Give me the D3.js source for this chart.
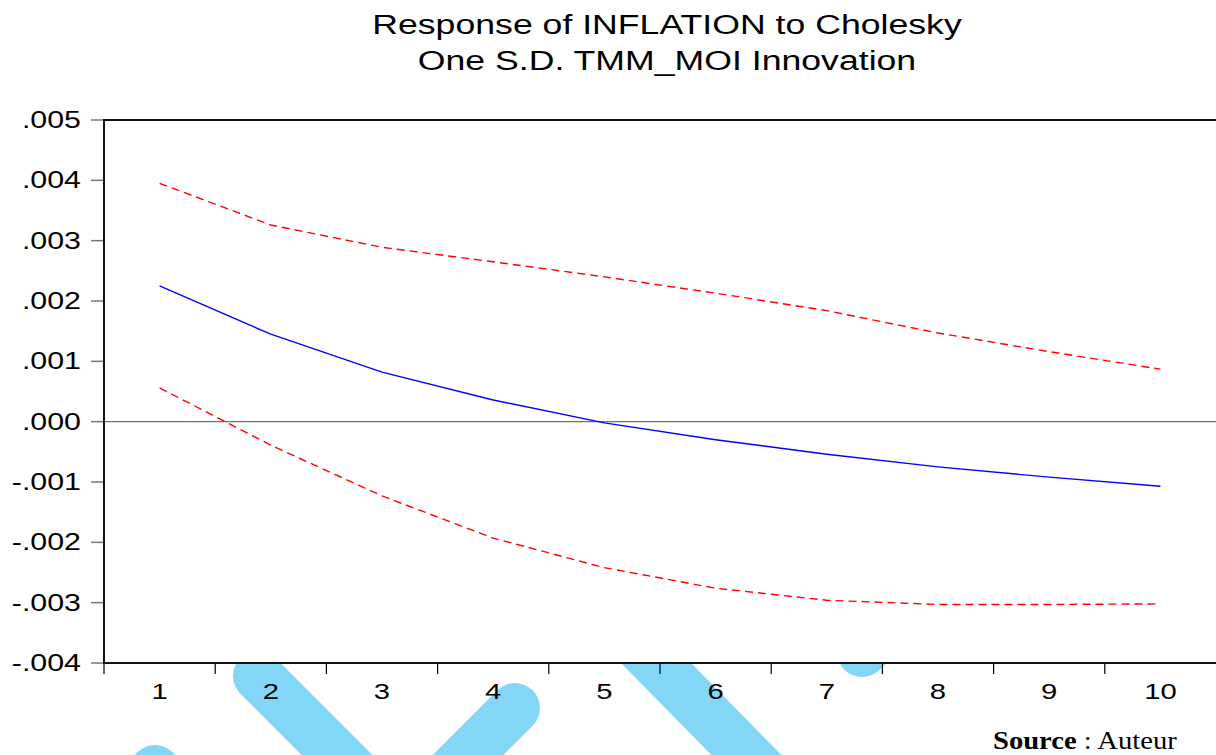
<!DOCTYPE html>
<html><head><meta charset="utf-8">
<script src="https://cdn.jsdelivr.net/npm/d3@7"></script>
<style>html,body{margin:0;padding:0;background:#fff;overflow:hidden}</style>
</head><body>
<svg id="c" width="1216" height="755"></svg>
<script>
const periods = [1,2,3,4,5,6,7,8,9,10];
const response = [0.00225,0.00145,0.00082,0.00036,-0.00002,-0.00030,-0.00054,-0.00075,-0.00092,-0.00107];
const upperBand = [0.00395,0.00326,0.00289,0.00265,0.00240,0.00213,0.00184,0.00147,0.00116,0.00087];
const lowerBand = [0.00056,-0.00039,-0.00123,-0.00193,-0.00242,-0.00276,-0.00296,-0.00303,-0.00303,-0.00302];
const yTicks = [0.005,0.004,0.003,0.002,0.001,0,-0.001,-0.002,-0.003,-0.004];
const yTickLabels = [".005",".004",".003",".002",".001",".000","-.001","-.002","-.003","-.004"];
const titleLines = ["Response of INFLATION to Cholesky","One S.D. TMM_MOI Innovation"];

const svg = d3.select("#c");
const L=104, R=1216, T=120, B=663;
const x = d3.scaleBand().domain(periods).range([L,R]).paddingInner(0).paddingOuter(0);
const y = d3.scaleLinear().domain([-0.004,0.005]).range([B,T]);
const cx = d => x(d)+x.bandwidth()/2;

// watermark strokes (behind the plot area)
const wm = svg.append("g").attr("stroke","#84d6f6").attr("stroke-width",50).attr("stroke-linecap","round").attr("fill","none");
[[258,676,420,838],[555,560,820,830],[862,652,1000,514],[515,708,380,843],[155,770,90,835]].forEach(s=>{
  wm.append("line").attr("x1",s[0]).attr("y1",s[1]).attr("x2",s[2]).attr("y2",s[3]);
});

// plot background
svg.append("rect").attr("x",L).attr("y",T).attr("width",R-L).attr("height",B-T).attr("fill","#fff");

// title
const SX=1.32;
titleLines.forEach((t,i)=>{
  svg.append("text").attr("transform",`translate(667,${34+i*36}) scale(${SX},1)`)
    .attr("text-anchor","middle").attr("font-family","Liberation Sans, Arial, sans-serif")
    .attr("font-size",27).attr("fill","#000").text(t);
});

// zero line
svg.append("line").attr("x1",L).attr("x2",R).attr("y1",y(0)).attr("y2",y(0)).attr("stroke","#707070").attr("stroke-width",1.3);

// y ticks
yTicks.forEach((v,i)=>{
  svg.append("line").attr("x1",91).attr("x2",L).attr("y1",y(v)).attr("y2",y(v)).attr("stroke","#777").attr("stroke-width",1.5);
  svg.append("text").attr("transform",`translate(81,${y(v)+8}) scale(${SX},1)`)
    .attr("text-anchor","end").attr("font-family","Liberation Sans, Arial, sans-serif")
    .attr("font-size",23).attr("fill","#000").text(yTickLabels[i]);
});

// x ticks at band boundaries
periods.forEach(p=>{
  svg.append("line").attr("x1",x(p)).attr("x2",x(p)).attr("y1",B).attr("y2",B+11).attr("stroke","#000").attr("stroke-width",1.2);
  svg.append("text").attr("transform",`translate(${cx(p)},699) scale(1.3,1)`)
    .attr("text-anchor","middle").attr("font-family","Liberation Sans, Arial, sans-serif")
    .attr("font-size",22.5).attr("fill","#000").text(p);
});

// frame
svg.append("path").attr("d",`M${R+2},${T}H${L}V${B}H${R+2}`).attr("fill","none").attr("stroke","#111").attr("stroke-width",2);

// lines
const line = d3.line().x((d,i)=>cx(periods[i])).y(d=>y(d));
svg.append("path").attr("d",line(upperBand)).attr("fill","none").attr("stroke","#ff0000").attr("stroke-width",1.4).attr("stroke-dasharray","8,5");
svg.append("path").attr("d",line(lowerBand)).attr("fill","none").attr("stroke","#ff0000").attr("stroke-width",1.4).attr("stroke-dasharray","8,5");
svg.append("path").attr("d",line(response)).attr("fill","none").attr("stroke","#0000ff").attr("stroke-width",1.4);

// source note
const src = svg.append("text").attr("transform","translate(993,749) scale(1.1,1)").attr("font-family","Liberation Serif, Times New Roman, serif").attr("font-size",26).attr("fill","#000");
src.append("tspan").attr("font-weight","bold").text("Source");
src.append("tspan").text(" : Auteur");
</script>
</body></html>
